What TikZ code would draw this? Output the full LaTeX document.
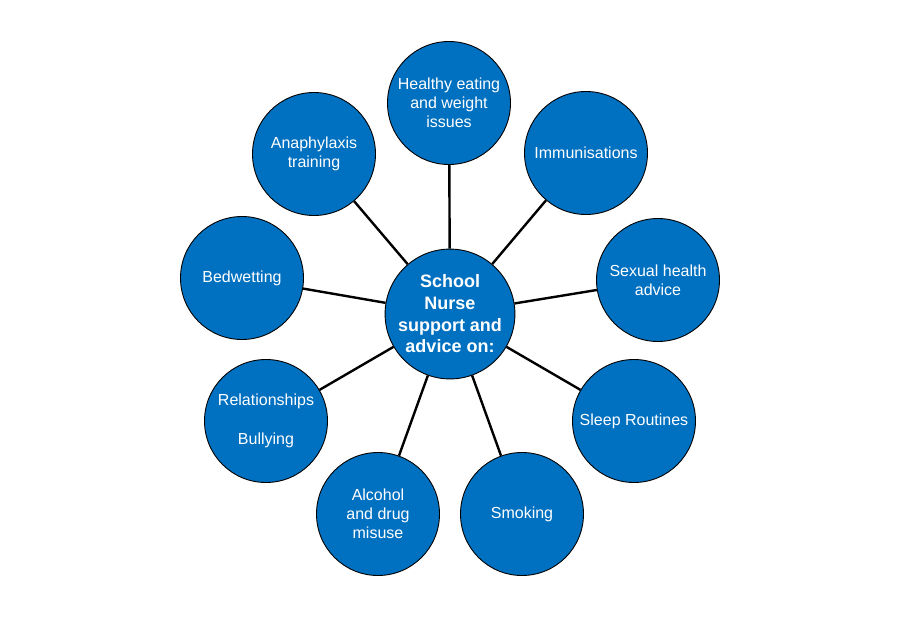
\documentclass[tikz,border=0pt]{standalone}
\usepackage{fontspec}
\setmainfont{Liberation Sans}
\definecolor{nurseblue}{RGB}{0,112,192}

\begin{document}
\begin{tikzpicture}[x=1pt, y=-1pt, every node/.style={circle, draw=black, line width=0.9pt, fill=nurseblue, text=white, minimum size=123pt, inner sep=0pt, align=center, font=\fontsize{16}{19}\selectfont}]
	% \draw[help lines] (0,0) grid (900,618);
	\useasboundingbox (0,0) rectangle (900,618);

	\node (nurse) at (450,314) [font=\fontsize{18}{21.7}\selectfont\bfseries] {School\\Nurse\\support and\\advice on:};
	\node (eating) at (449,103) [] {Healthy eating\\and weight\\issues};
	\node (immun) at (586,153) [] {Immunisations};
	\node (sexual) at (658,280) [] {Sexual health\\advice};
	\node (sleep) at (634,421) [] {Sleep Routines};
	\node (smoke) at (522,514) [] {Smoking};
	\node (alcohol) at (378,514) [] {Alcohol\\and drug\\misuse};
	\node (relate) at (266,421) [] {Relationships\\[20pt]Bullying};
	\node (bedwet) at (242,278) [] {Bedwetting};
	\node (anaph) at (314,154) [] {Anaphylaxis\\training};

	\foreach \t in {eating, immun, sexual, sleep, smoke, alcohol, relate, bedwet, anaph}
		\draw[line width=2.4pt] (nurse) -- (\t);
\end{tikzpicture}
\end{document}
